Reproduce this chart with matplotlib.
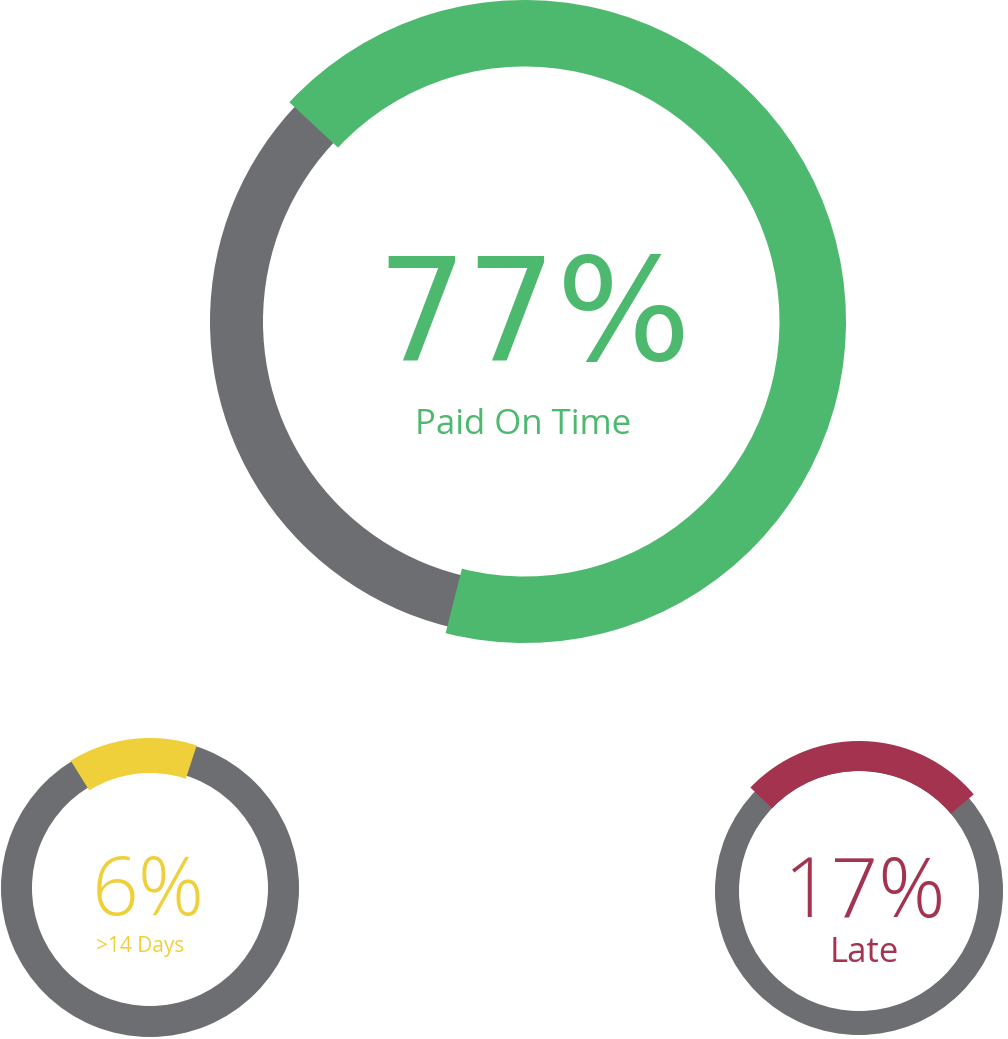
import matplotlib
matplotlib.use("Agg")
import matplotlib.pyplot as plt

labels = ["77%", "6%", "17%"]
captions = ["Paid On Time", ">14 Days", "Late"]
arc_share = [0.670, 0.139, 0.2675]
colors = ["#4cb96f", "#f0d03a", "#a3334f"]
ring_gray = "#6d6e71"

W, H = 1008, 1039
fig = plt.figure(figsize=(W / 100, H / 100), dpi=100)
ax = fig.add_axes([0, 0, 1, 1])

# layout in pixels (y measured from the top of the picture)
centers = [(524.5, 321.5), (150, 888), (859, 891)]
arc_outer = [321.5, 150, 150]
arc_width = [66.5, 35, 30]
gray_outer = [314.5, 149, 144]
gray_width = [53, 31, 24]
start_angle = [137.0, 121.9, 136.4]
big_font = ["DejaVu Sans", "Open Sans", "Open Sans"]
big_weight = ["normal", "light", "light"]
big_size = [102, 59, 60]
big_base = [360, 915, 917]
big_dx = [9.5, -2, 6]
cap_size = [25, 15, 25]
cap_base = [434, 952, 962]
cap_dx = [-1.5, -10, 5]

for i in range(3):
    cx, cy = centers[i]
    c = (cx, H - cy)
    ax.pie([1], colors=[ring_gray], center=c, radius=gray_outer[i],
           wedgeprops=dict(width=gray_width[i], linewidth=0))
    ax.pie([arc_share[i], 1 - arc_share[i]], colors=[colors[i], (0, 0, 0, 0)],
           startangle=start_angle[i], counterclock=False,
           center=c, radius=arc_outer[i],
           wedgeprops=dict(width=arc_width[i], linewidth=0))
    ax.text(cx + big_dx[i], H - big_base[i], labels[i], color=colors[i],
            fontsize=big_size[i], family=big_font[i], fontweight=big_weight[i],
            ha="center", va="baseline")
    ax.text(cx + cap_dx[i], H - cap_base[i], captions[i], color=colors[i],
            fontsize=cap_size[i], family="Open Sans",
            ha="center", va="baseline")

ax.set_xlim(0, W)
ax.set_ylim(0, H)
ax.set_aspect("equal")
ax.axis("off")

fig.savefig("out.png", dpi=100, facecolor="white")
